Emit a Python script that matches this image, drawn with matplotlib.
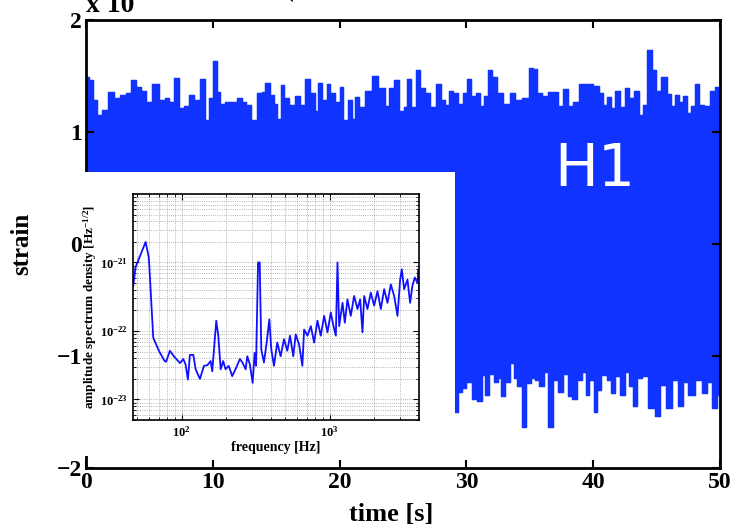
import numpy as np
import matplotlib
matplotlib.use('Agg')
import matplotlib.pyplot as plt
from matplotlib.patches import Rectangle
from matplotlib.ticker import FuncFormatter, LogLocator, NullFormatter

# strain time series, upper / lower excursions (units of 1e-21)
upper_t = [0.0, 0.45, 0.71, 1.1, 1.5, 2.0, 2.4, 2.95, 3.3, 3.8, 4.1, 4.5, 4.9, 5.5, 6.0, 6.4,
           6.75, 7.2, 7.5, 7.9, 8.3, 8.7, 9.25, 9.5, 9.9, 10.2, 10.4, 10.8, 11.2, 11.75, 12.1,
           12.5, 12.8, 13.3, 13.7, 14.0, 14.3, 14.65, 14.95, 15.2, 15.5, 15.8, 16.2, 16.7, 17.0,
           17.5, 17.9, 18.2, 18.45, 18.85, 19.1, 19.45, 19.8, 20.2, 20.4, 20.85, 21.1, 21.35,
           21.75, 22.25, 22.8, 23.2, 23.4, 23.7, 24.1, 24.5, 24.9, 25.2, 25.5, 25.8, 26.2, 26.55,
           26.9, 27.4, 27.85, 28.2, 28.45, 28.8, 29.1, 29.5, 29.9, 30.2, 30.55, 30.95, 31.2,
           31.55, 31.8, 32.2, 32.65, 33.2, 33.6, 34.05, 34.65, 35.15, 35.4, 35.8, 36.2, 36.6,
           37.0, 37.4, 37.8, 38.2, 38.6, 39.2, 39.7, 40.3, 40.6, 40.95, 41.2, 41.6, 41.9, 42.3,
           42.7, 43.0, 43.4, 43.8, 44.0, 44.5, 44.85, 45.1, 45.6, 46.0, 46.3, 46.6, 46.9, 47.2,
           47.6, 47.9, 48.2, 48.5, 48.95, 49.4, 49.75, 50.0]
upper_v = [1.49, 1.46, 1.29, 1.15, 1.20, 1.36, 1.30, 1.33, 1.35, 1.46, 1.40, 1.37, 1.27, 1.43,
           1.29, 1.30, 1.27, 1.48, 1.21, 1.23, 1.33, 1.29, 1.47, 1.11, 1.30, 1.63, 1.36, 1.25,
           1.27, 1.27, 1.30, 1.27, 1.24, 1.11, 1.35, 1.36, 1.44, 1.33, 1.25, 1.12, 1.42, 1.30,
           1.24, 1.32, 1.24, 1.47, 1.35, 1.19, 1.44, 1.29, 1.43, 1.35, 1.27, 1.40, 1.11, 1.29,
           1.12, 1.31, 1.22, 1.37, 1.50, 1.39, 1.39, 1.23, 1.39, 1.46, 1.19, 1.22, 1.47, 1.22,
           1.55, 1.39, 1.35, 1.22, 1.43, 1.29, 1.24, 1.37, 1.35, 1.25, 1.35, 1.47, 1.32, 1.35,
           1.23, 1.32, 1.55, 1.49, 1.35, 1.25, 1.35, 1.29, 1.30, 1.57, 1.56, 1.35, 1.32, 1.36,
           1.36, 1.23, 1.38, 1.23, 1.27, 1.43, 1.43, 1.41, 1.35, 1.24, 1.31, 1.21, 1.37, 1.22,
           1.39, 1.30, 1.37, 1.15, 1.24, 1.73, 1.55, 1.37, 1.49, 1.34, 1.23, 1.33, 1.27, 1.32,
           1.17, 1.23, 1.43, 1.24, 1.23, 1.37, 1.40, 1.40]
lower_t = [0.0, 2.0, 4.0, 6.0, 8.0, 10.0, 12.0, 14.0, 16.0, 18.0, 20.0, 22.0, 24.0, 26.0, 28.0,
           29.2, 29.5, 29.8, 30.2, 30.75, 31.0, 31.4, 31.6, 31.95, 32.35, 32.6, 32.9, 33.25,
           33.6, 33.9, 34.15, 34.55, 34.9, 35.25, 35.6, 35.9, 36.3, 36.6, 37.0, 37.4, 37.9,
           38.2, 38.5, 38.9, 39.3, 39.5, 39.85, 40.2, 40.4, 40.9, 41.2, 41.6, 41.9, 42.3, 42.7,
           43.0, 43.3, 43.6, 44.1, 44.6, 45.1, 45.5, 46.0, 46.4, 46.9, 47.2, 47.7, 48.3, 48.8,
           49.1, 49.6, 50.0]
lower_v = [-1.30, -1.25, -1.35, -1.22, -1.30, -1.28, -1.33, -1.24, -1.30, -1.27, -1.35, -1.25,
           -1.30, -1.28, -1.32, -1.50, -1.32, -1.29, -1.23, -1.38, -1.40, -1.17, -1.35, -1.16,
           -1.23, -1.20, -1.36, -1.23, -1.06, -1.20, -1.27, -1.63, -1.24, -1.20, -1.21, -1.27,
           -1.14, -1.63, -1.21, -1.32, -1.16, -1.36, -1.38, -1.21, -1.14, -1.35, -1.21, -1.50,
           -1.30, -1.17, -1.21, -1.33, -1.18, -1.35, -1.14, -1.27, -1.45, -1.20, -1.18, -1.46,
           -1.54, -1.26, -1.46, -1.21, -1.45, -1.23, -1.35, -1.21, -1.33, -1.23, -1.46, -1.35]

# amplitude spectral density (log10 of Hz^-1/2)
freq = [47.2, 48.9, 57.2, 60.1, 64.4, 70.3, 76.8, 78.6, 83.4, 88.7, 97.5, 102.6, 106.4, 110.3,
        113.8, 120, 124.4, 133, 141.6, 149.3, 157, 161, 171.4, 176.9, 183.5, 190.9, 198, 208,
        219.6, 231, 247.5, 257, 270.6, 277.5, 289, 301.7, 311, 318, 328, 336.5, 345, 359.6,
        375, 391, 403, 420, 442, 466, 491, 517, 539, 567, 589, 621, 653, 671, 707, 745, 784,
        826, 869, 916, 965, 1016, 1059, 1099, 1127, 1157, 1219, 1263, 1316, 1386, 1460, 1538,
        1603, 1662, 1706, 1796, 1892, 1992, 2099, 2210, 2328, 2451, 2582, 2719, 2864, 2985,
        3061, 3175, 3343, 3484, 3611, 3747, 3906, 3970, 4030]
asd_log = [-21.34, -21.07, -20.70, -20.93, -22.10, -22.29, -22.44, -22.45, -22.29, -22.37,
           -22.47, -22.41, -22.49, -22.71, -22.35, -22.35, -22.56, -22.70, -22.51, -22.50,
           -22.44, -22.59, -21.85, -22.07, -22.56, -22.44, -22.56, -22.51, -22.66, -22.56,
           -22.41, -22.46, -22.56, -22.37, -22.49, -22.76, -22.32, -22.51, -21.00, -21.00,
           -22.27, -22.46, -22.17, -21.83, -22.27, -22.51, -22.17, -22.37, -22.12, -22.29,
           -22.07, -22.37, -22.05, -22.20, -22.51, -21.98, -22.07, -21.93, -22.17, -21.85,
           -22.07, -21.78, -22.02, -21.73, -21.93, -22.07, -21.00, -21.93, -21.59, -21.88,
           -21.54, -21.78, -21.49, -21.68, -21.54, -22.02, -21.49, -21.68, -21.44, -21.63,
           -21.42, -21.68, -21.39, -21.59, -21.32, -21.49, -21.78, -21.25, -21.10, -21.39,
           -21.25, -21.59, -21.34, -21.22, -21.30, -21.10, -21.63]

xticks_main = [0, 10, 20, 30, 40, 50]
yticks_main = [-2, -1, 0, 1, 2]

plt.rcParams['font.family'] = 'Liberation Serif'
plt.rcParams['font.weight'] = 'bold'
plt.rcParams['axes.labelweight'] = 'bold'
plt.rcParams['mathtext.fontset'] = 'custom'
plt.rcParams['mathtext.rm'] = 'Liberation Serif:bold'
plt.rcParams['mathtext.it'] = 'Liberation Serif:bold:italic'
plt.rcParams['mathtext.bf'] = 'Liberation Serif:bold'

blue = '#1133ff'

fig = plt.figure(figsize=(7.33, 5.29), dpi=100)
W, H = 733.0, 529.0
ax = fig.add_axes([86/W, 1-468/H, 634/W, 448/H])
ax.fill_between(upper_t, 0, upper_v, step='mid', color=blue, lw=0.8)
ax.fill_between(lower_t, lower_v, 0, step='mid', color=blue, lw=0.8)
ax.step(upper_t, upper_v, where='mid', color=blue, lw=1)
ax.step(lower_t, lower_v, where='mid', color=blue, lw=1)
ax.set_xlim(0, 50)
ax.set_ylim(-2, 2)
ax.set_xticks(xticks_main)
ax.set_yticks(yticks_main)
ax.tick_params(direction='in', length=6, width=1.5, top=True, right=True,
               labelsize=17, pad=3)
for s in ax.spines.values():
    s.set_linewidth(2)
ax.set_xlabel('time [s]', fontsize=19)
ax.xaxis.set_label_coords(0.482, -0.078)
ax.set_ylabel('strain', fontsize=18)
ax.yaxis.set_label_coords(-0.083, 0.5)
fig.text(86/W, 1-12/H, 'x 10', fontsize=20, ha='left', va='baseline')
fig.text(290/W, 1+3/H, '(', fontsize=17, ha='center', va='baseline')

fig.text(595/W, 1-170/H, 'H1', color='white', fontsize=42, family='DejaVu Sans',
         weight='normal', ha='center', va='center')

# white box behind the inset
fig.add_artist(Rectangle((82/W, 1-456/H), 373/W, 284/H, transform=fig.transFigure,
                         facecolor='white', edgecolor='none', zorder=1))

ins = fig.add_axes([133/W, 1-420/H, 286/W, 226/H])
ins.set_zorder(2)
ins.loglog(freq, [10**v for v in asd_log], color='#1010ff', lw=1.3)
ins.set_xlim(47, 4000)
ins.set_ylim(5e-24, 1e-20)
ins.grid(which='both', ls=':', color='0.6', lw=0.6)
ins.xaxis.set_major_locator(LogLocator(base=10, numticks=10))
ins.set_yticks([1e-23, 1e-22, 1e-21])
fmt = FuncFormatter(lambda v, p: r'$\mathrm{10^{%d}}$' % round(np.log10(v)))
ins.xaxis.set_major_formatter(fmt)
ins.yaxis.set_major_formatter(fmt)
ins.xaxis.set_minor_formatter(NullFormatter())
ins.yaxis.set_minor_formatter(NullFormatter())
ins.tick_params(which='both', direction='in', top=True, right=True, labelsize=9)
ins.tick_params(which='major', length=4)
ins.tick_params(which='minor', length=2)
for s in ins.spines.values():
    s.set_linewidth(1.2)
ins.set_xlabel('frequency [Hz]', fontsize=10, labelpad=1)
ins.set_ylabel(r'amplitude spectrum density [Hz$^{-1/2}$]', fontsize=9.5)
ins.yaxis.set_label_coords(-0.12, 0.5)

fig.savefig('out.png', dpi=100)
